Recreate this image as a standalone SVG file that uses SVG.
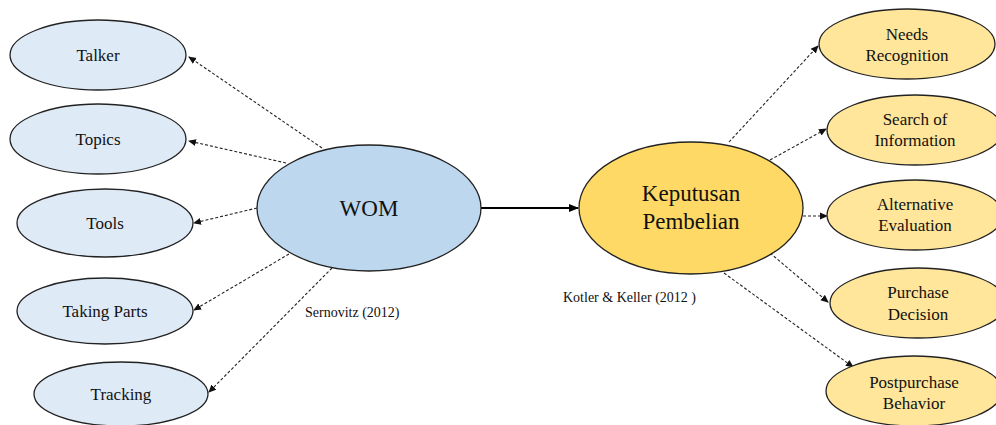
<svg xmlns="http://www.w3.org/2000/svg" width="996" height="425" viewBox="0 0 996 425">
<style>
.lb ellipse{fill:#deeaf6;stroke:#222;stroke-width:1.3}
.ly ellipse{fill:#ffe69a;stroke:#222;stroke-width:1.3}
text{font-family:'Liberation Serif','Times New Roman',serif;fill:#111;text-anchor:middle}
.t{font-size:17px}
.big{font-size:23px}
.cite{font-size:14px;text-anchor:start}
.d{stroke:#222;stroke-width:1.1;stroke-dasharray:3,2;fill:none;marker-end:url(#ah)}
.s{stroke:#000;stroke-width:2;fill:none;marker-end:url(#ah2)}
</style>
<defs>
<marker id="ah" markerWidth="8" markerHeight="8" refX="7" refY="4" orient="auto" markerUnits="userSpaceOnUse"><path d="M0,0.5 L8,4 L0,7.5 z" fill="#111"/></marker>
<marker id="ah2" markerWidth="10" markerHeight="10" refX="9" refY="5" orient="auto" markerUnits="userSpaceOnUse"><path d="M0,1 L10,5 L0,9 z" fill="#000"/></marker>
</defs>
<rect width="996" height="425" fill="#fff"/>
<g id="connectors">
<path class="d" d="M322,148 L189,57"/>
<path class="d" d="M286,163 L189,141"/>
<path class="d" d="M257,208 L194,223"/>
<path class="d" d="M289,254 L194,310"/>
<path class="d" d="M332,268 L209,392"/>
<path class="s" d="M481,208 L578,208"/>
<path class="d" d="M729,142 L818,46"/>
<path class="d" d="M770,160 L826,129"/>
<path class="d" d="M803,216 L827,216"/>
<path class="d" d="M770,253 L828,302"/>
<path class="d" d="M724,273 L853,367"/>
</g>
<g id="talker" class="lb"><ellipse cx="98" cy="55" rx="88" ry="35"/><text class="t" x="98" y="61">Talker</text></g>
<g id="topics" class="lb"><ellipse cx="98" cy="139" rx="88" ry="35"/><text class="t" x="98" y="145">Topics</text></g>
<g id="tools" class="lb"><ellipse cx="105" cy="223" rx="88" ry="34"/><text class="t" x="105" y="229">Tools</text></g>
<g id="taking-parts" class="lb"><ellipse cx="105" cy="311" rx="88" ry="33"/><text class="t" x="105" y="317">Taking Parts</text></g>
<g id="tracking" class="lb"><ellipse cx="121" cy="394" rx="87" ry="32"/><text class="t" x="121" y="400">Tracking</text></g>
<g id="wom"><ellipse cx="369" cy="208" rx="112" ry="63" fill="#bdd7ee" stroke="#222" stroke-width="1.3"/><text class="big" x="369" y="216">WOM</text></g>
<g id="keputusan"><ellipse cx="691" cy="208" rx="112" ry="66" fill="#ffd966" stroke="#222" stroke-width="1.3"/><text class="big" x="691" y="201">Keputusan</text><text class="big" x="691" y="229">Pembelian</text></g>
<g id="needs" class="ly"><ellipse cx="907" cy="44" rx="88" ry="35"/><text class="t" x="907" y="40">Needs</text><text class="t" x="907" y="61">Recognition</text></g>
<g id="search" class="ly"><ellipse cx="915" cy="130" rx="88" ry="35"/><text class="t" x="915" y="125">Search of</text><text class="t" x="915" y="146">Information</text></g>
<g id="alternative" class="ly"><ellipse cx="915" cy="215" rx="88" ry="35"/><text class="t" x="915" y="210">Alternative</text><text class="t" x="915" y="231">Evaluation</text></g>
<g id="purchase" class="ly"><ellipse cx="918" cy="303" rx="88" ry="35"/><text class="t" x="918" y="298">Purchase</text><text class="t" x="918" y="320">Decision</text></g>
<g id="postpurchase" class="ly"><ellipse cx="914" cy="391" rx="88" ry="35"/><text class="t" x="914" y="388">Postpurchase</text><text class="t" x="914" y="409">Behavior</text></g>
<text class="cite" x="305" y="317">Sernovitz (2012)</text>
<text class="cite" x="563" y="302">Kotler &amp; Keller (2012 )</text>
</svg>
